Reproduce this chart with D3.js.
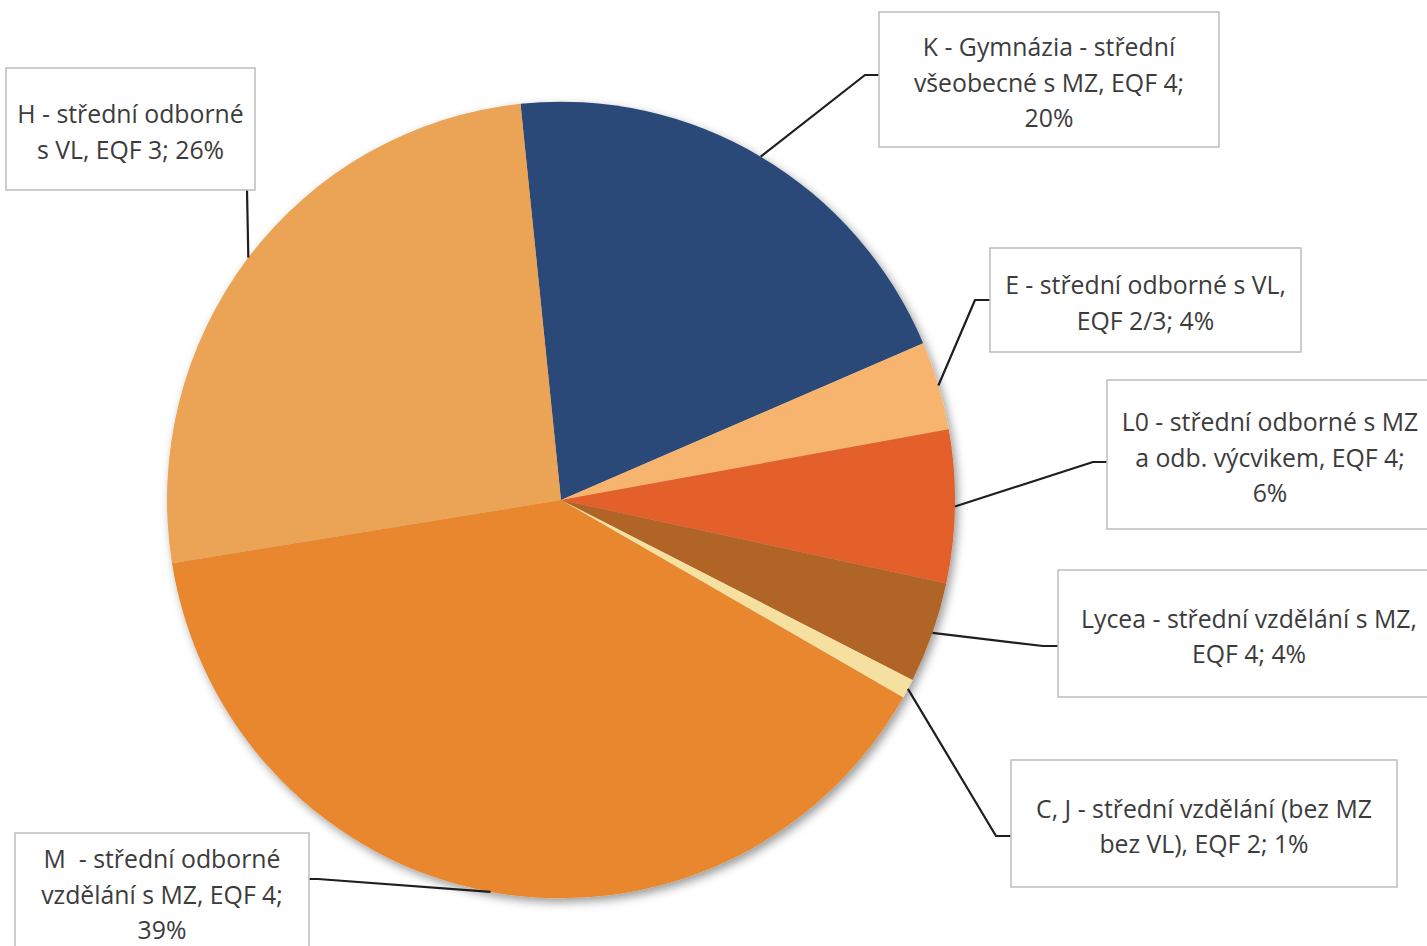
<!DOCTYPE html>
<html><head><meta charset="utf-8">
<script src="https://cdn.jsdelivr.net/npm/d3@7"></script>
<style>
html,body{margin:0;padding:0;background:#fff;}
svg{display:block;}
</style></head>
<body>
<script>
// Data (clockwise from the top)
const categories = [
  "K - Gymnázia - střední všeobecné s MZ, EQF 4",
  "E - střední odborné s VL, EQF 2/3",
  "L0 - střední odborné s MZ a odb. výcvikem, EQF 4",
  "Lycea - střední vzdělání s MZ, EQF 4",
  "C, J - střední vzdělání (bez MZ bez VL), EQF 2",
  "M  - střední odborné vzdělání s MZ, EQF 4",
  "H - střední odborné s VL, EQF 3"
];
const values = [20.2, 3.6, 6.2, 4.1, 0.8, 39.2, 25.9];
const shownPercent = ["20%", "4%", "6%", "4%", "1%", "39%", "26%"];
const labelLines = [
  ["K - Gymnázia - střední", "všeobecné s MZ, EQF 4;", "20%"],
  ["E - střední odborné s VL,", "EQF 2/3; 4%"],
  ["L0 - střední odborné s MZ", "a odb. výcvikem, EQF 4;", "6%"],
  ["Lycea - střední vzdělání s MZ,", "EQF 4; 4%"],
  ["C, J - střední vzdělání (bez MZ", "bez VL), EQF 2; 1%"],
  ["M  - střední odborné", "vzdělání s MZ, EQF 4;", "39%"],
  ["H - střední odborné", "s VL, EQF 3; 26%"]
];
const colors = ["#2b4a78", "#f7b46e", "#e3612b", "#b06528", "#f6e0a0", "#e8872e", "#eba455"];

// Layout
const W = 1427, H = 946;
const cx = 561, cy = 500, R = 394, sy = 1.011;
const startDeg = -5.9;
const boxes = [
  {x: 879, y: 12, w: 340, h: 135, elbow: [[879, 75], [865, 75]]},
  {x: 990, y: 248, w: 311, h: 104, elbow: [[990, 300], [975, 300]]},
  {x: 1107, y: 380, w: 326, h: 149, elbow: [[1107, 462], [1093, 462]]},
  {x: 1058, y: 570, w: 382, h: 127, elbow: [[1058, 646], [1043, 646]]},
  {x: 1011, y: 760, w: 386, h: 127, elbow: [[1011, 836], [996, 836]]},
  {x: 15, y: 833, w: 294, h: 117, elbow: [[309, 879], [318, 879]]},
  {x: 6, y: 68, w: 249, h: 122, elbow: [[247, 190], [247, 190]]}
];

const svg = d3.select("body").append("svg").attr("width", W).attr("height", H);
const defs = svg.append("defs");
const f = defs.append("filter").attr("id", "sh").attr("x", "-10%").attr("y", "-10%").attr("width", "120%").attr("height", "120%");
f.append("feDropShadow").attr("dx", 3).attr("dy", 4).attr("stdDeviation", 5)
  .attr("flood-color", "#000").attr("flood-opacity", 0.4);

const pie = d3.pie().sort(null).value(d => d)
  .startAngle(startDeg * Math.PI / 180)
  .endAngle(startDeg * Math.PI / 180 + 2 * Math.PI);
const arcs = pie(values);
const arc = d3.arc().innerRadius(0).outerRadius(R);

const g = svg.append("g").attr("filter", "url(#sh)")
  .append("g").attr("transform", `translate(${cx},${cy}) scale(1,${sy})`);
g.selectAll("path").data(arcs).join("path")
  .attr("d", arc)
  .attr("fill", (d, i) => colors[i]);

// leader lines
const line = d3.line();
arcs.forEach((a, i) => {
  const mid = (a.startAngle + a.endAngle) / 2;
  const px = cx + R * Math.sin(mid), py = cy - R * sy * Math.cos(mid);
  const pts = [...boxes[i].elbow, [px, py]];
  svg.append("path").attr("d", line(pts))
    .attr("fill", "none").attr("stroke", "#1e1e1e").attr("stroke-width", 2.2)
    .attr("stroke-linejoin", "round");
});

// label boxes
boxes.forEach((b, i) => {
  svg.append("rect").attr("x", b.x).attr("y", b.y).attr("width", b.w).attr("height", b.h + (i === 5 ? 10 : 0))
    .attr("fill", "#fff").attr("stroke", "#bdbdbd").attr("stroke-width", 1.5);
  const lines = labelLines[i];
  const n = lines.length;
  const midY = b.y + b.h / 2 + 2;
  const tx = b.x + b.w / 2;
  svg.append("text")
    .attr("font-family", "'Open Sans', 'Noto Sans', sans-serif")
    .attr("font-size", 24.8)
    .attr("fill", "#3c3c3c")
    .attr("text-anchor", "middle")
    .style("white-space", "pre")
    .selectAll("tspan").data(lines).join("tspan")
    .attr("x", tx)
    .attr("y", (d, j) => midY + (j - (n - 1) / 2) * 35.5)
    .attr("dominant-baseline", "central")
    .text(d => d);
});
</script>
</body></html>
